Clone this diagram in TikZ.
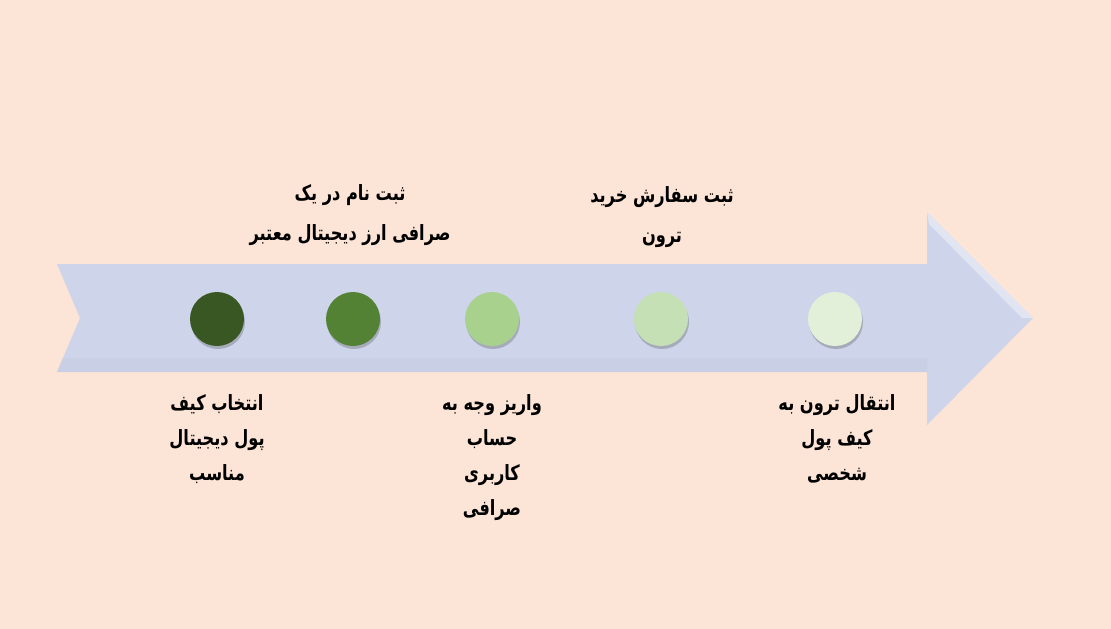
\documentclass[tikz,border=0pt]{standalone}
\usepackage{fontspec}
\usetikzlibrary{shadows,fadings}
\TeXXeTstate=1
\newfontfamily\arabicfont[Script=Arabic,FakeStretch=0.77]{DejaVu Sans}
\newcommand{\rl}[1]{\beginR #1\endR}
\definecolor{bgpeach}{HTML}{FCE4D6}
\definecolor{arrowfill}{HTML}{CED5EA}
\definecolor{gA}{HTML}{385723}
\definecolor{gB}{HTML}{548235}
\definecolor{gC}{HTML}{A9D18E}
\definecolor{gD}{HTML}{C5E0B4}
\definecolor{gE}{HTML}{E2F0D9}
\tikzset{
  dot/.style={circle, minimum size=54pt, inner sep=0pt,
    drop shadow={shadow xshift=1pt, shadow yshift=-3pt, opacity=0.3, fill=black!70}},
  lbl/.style={align=center, font=\arabicfont\bfseries\fontsize{21}{35}\selectfont, text=black},
  toplbl/.style={align=center, font=\arabicfont\bfseries\fontsize{21}{40.5}\selectfont, text=black}
}
\begin{document}
\begin{tikzpicture}[x=1pt,y=-1pt]
\fill[bgpeach] (0,0) rectangle (1111,629);
\useasboundingbox (0,0) rectangle (1111,629);
% arrow
\fill[arrowfill] (57,264) -- (927,264) -- (927,212) -- (1033,318) -- (927,425) -- (927,372) -- (57,372) -- (80,318) -- cycle;
\fill[white,opacity=0.4] (927,212) -- (1033,318) -- (1022,318) -- (929,224) -- cycle;
\fill[black,opacity=0.02] (62,358) -- (927,358) -- (927,372) -- (57,372) -- cycle;
% dots
\node[dot, fill=gA] (d1) at (217,319) {};
\node[dot, fill=gB] (d2) at (353,319) {};
\node[dot, fill=gC] (d3) at (492,319) {};
\node[dot, fill=gD] (d4) at (661,319) {};
\node[dot, fill=gE] (d5) at (835,319) {};
% labels
\node[toplbl] (t2) at (350,215) {\rl{ثبت نام در یک}\\\rl{صرافی ارز دیجیتال معتبر}};
\node[toplbl] (t4) at (662,217) {\rl{ثبت سفارش خرید}\\\rl{ترون}};
\node[lbl, anchor=north] (t1) at (217,391) {\rl{انتخاب کیف}\\\rl{پول دیجیتال}\\\rl{مناسب}};
\node[lbl, anchor=north] (t3) at (492,391) {\rl{واریز وجه به}\\\rl{حساب}\\\rl{کاربری}\\\rl{صرافی}};
\node[lbl, anchor=north] (t5) at (837,391) {\rl{انتقال ترون به}\\\rl{کیف پول}\\\rl{شخصی}};
\end{tikzpicture}
\end{document}
